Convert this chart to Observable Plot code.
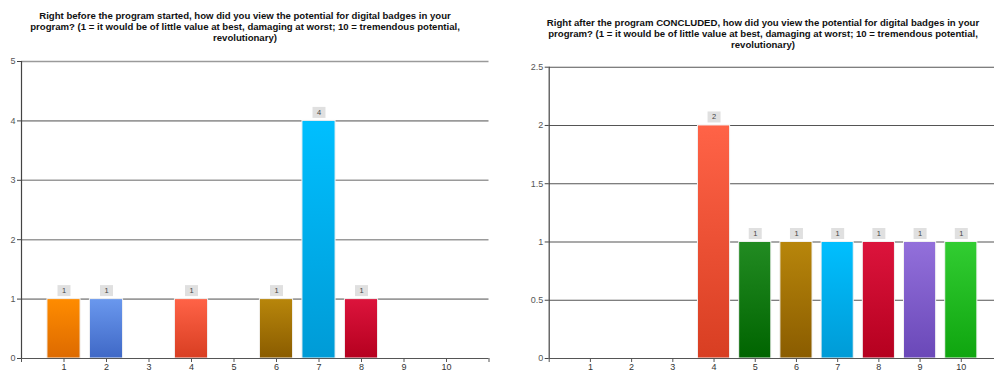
<!DOCTYPE html>
<html>
<head>
<meta charset="utf-8">
<script src="https://cdn.jsdelivr.net/npm/d3@7"></script>
<script src="https://cdn.jsdelivr.net/npm/@observablehq/plot@0.6"></script>
<style>
  html, body { margin: 0; padding: 0; background: #fff; overflow: hidden; }
  #wrap { position: relative; width: 994px; height: 373px; font-family: "Liberation Sans", Arial, sans-serif; }
  .title { position: absolute; font-weight: bold; font-size: 9.6px; line-height: 11px; text-align: center; white-space: nowrap; color: #111; transform: translateX(-50%); }
  .chart { position: absolute; top: 0; }
  .chart svg { overflow: visible; }
</style>
</head>
<body>
<div id="wrap">
  <div class="chart" id="c1" style="left:0px;"></div>
  <div class="chart" id="c2" style="left:497px;"></div>
  <div class="title" id="t1" style="left:245px; top:10px;"></div>
  <div class="title" id="t2" style="left:763px; top:16.5px;"></div>
</div>
<script>
// ---- data ----
const ratings = [1, 2, 3, 4, 5, 6, 7, 8, 9, 10];
const beforeCounts = [1, 1, 0, 1, 0, 1, 4, 1, 0, 0];
const afterCounts = [0, 0, 0, 2, 1, 1, 1, 1, 1, 1];
const beforeTitle = [
  "Right before the program started, how did you view the potential for digital badges in your",
  "program? (1 = it would be of little value at best, damaging at worst; 10 = tremendous potential,",
  "revolutionary)"
];
const afterTitle = [
  "Right after the program CONCLUDED, how did you view the potential for digital badges in your",
  "program? (1 = it would be of little value at best, damaging at worst; 10 = tremendous potential,",
  "revolutionary)"
];
const beforeYTicks = [0, 1, 2, 3, 4, 5];
const afterYTicks = [0, 0.5, 1, 1.5, 2, 2.5];
const xTicks = [0, 1, 2, 3, 4, 5, 6, 7, 8, 9, 10, 11];
// gradient colors per rating (top, bottom)
const colorTop = ["#FF8C00", "#6A98EE", "#999999", "#FF6347", "#228B22", "#B8860B", "#00BFFF", "#DC143C", "#9370DB", "#32CD32"];
const colorBottom = ["#DD6A00", "#3F68C6", "#777777", "#D83E22", "#006400", "#8A5C00", "#009BD6", "#B5001F", "#6A48B8", "#0FA50F"];

document.getElementById("t1").innerHTML = beforeTitle.join("<br>");
document.getElementById("t2").innerHTML = afterTitle.join("<br>");

const labelBox = { draw(ctx) { ctx.rect(-6.5, -5.5, 13, 11); } };

function makeChart(counts, yTicks, yMax, margins, gridColor, gridWidth, prefix) {
  const data = ratings.map((r, i) => ({ r, n: counts[i], top: colorTop[i], bottom: colorBottom[i] })).filter(d => d.n > 0);
  const svg = Plot.plot({
    width: 497,
    height: 373,
    marginLeft: margins[0], marginRight: margins[1], marginTop: margins[2], marginBottom: margins[3],
    style: { fontFamily: "Liberation Sans, Arial, sans-serif", fontSize: "9px", color: "#444", overflow: "visible" },
    x: { domain: [0, 11] },
    y: { domain: [0, yMax] },
    marks: [
      Plot.ruleY(yTicks.filter(t => t > 0), { stroke: gridColor, strokeWidth: gridWidth, strokeOpacity: 1 }),
      Plot.rectY(data, {
        x1: d => d.r - 0.39, x2: d => d.r + 0.39, y1: 0, y2: "n",
        fill: d => `url(#${prefix}g${d.r})`, stroke: "#f2f2f2", strokeWidth: 1
      }),
      Plot.ruleY([0], { stroke: "#555", strokeWidth: 1.2 }),
      Plot.ruleX([0], { stroke: "#444", strokeWidth: 1.2 }),
      Plot.axisY({ ticks: yTicks, tickSize: 4, tickPadding: 2, stroke: "#444", fill: "#555", label: null, tickFormat: d => String(d) }),
      Plot.axisX({ ticks: xTicks, tickSize: 4, tickPadding: 1, stroke: "#555", fill: "#333", label: null, tickFormat: d => (d >= 1 && d <= 10 ? String(d) : "") }),
      Plot.dot(data, { x: "r", y: "n", dy: -8.5, symbol: labelBox, fill: "#e0e0e0", stroke: null, r: 5 }),
      Plot.text(data, { x: "r", y: "n", dy: -8.5, text: d => String(d.n), fill: "#444", fontSize: 7.5 })
    ]
  });
  // gradient definitions
  const ns = "http://www.w3.org/2000/svg";
  const defs = document.createElementNS(ns, "defs");
  data.forEach(d => {
    const g = document.createElementNS(ns, "linearGradient");
    g.setAttribute("id", `${prefix}g${d.r}`);
    g.setAttribute("x1", "0"); g.setAttribute("y1", "0"); g.setAttribute("x2", "0"); g.setAttribute("y2", "1");
    [[0, d.top], [1, d.bottom]].forEach(([o, c]) => {
      const s = document.createElementNS(ns, "stop");
      s.setAttribute("offset", o); s.setAttribute("stop-color", c);
      g.appendChild(s);
    });
    defs.appendChild(g);
  });
  svg.insertBefore(defs, svg.firstChild);
  return svg;
}

document.getElementById("c1").appendChild(makeChart(beforeCounts, beforeYTicks, 5, [21, 8.5, 61, 15], "#9a9a9a", 1.6, "b"));
document.getElementById("c2").appendChild(makeChart(afterCounts, afterYTicks, 2.5, [51.7, -8, 66.7, 15], "#555", 1.1, "a"));
</script>
</body>
</html>
